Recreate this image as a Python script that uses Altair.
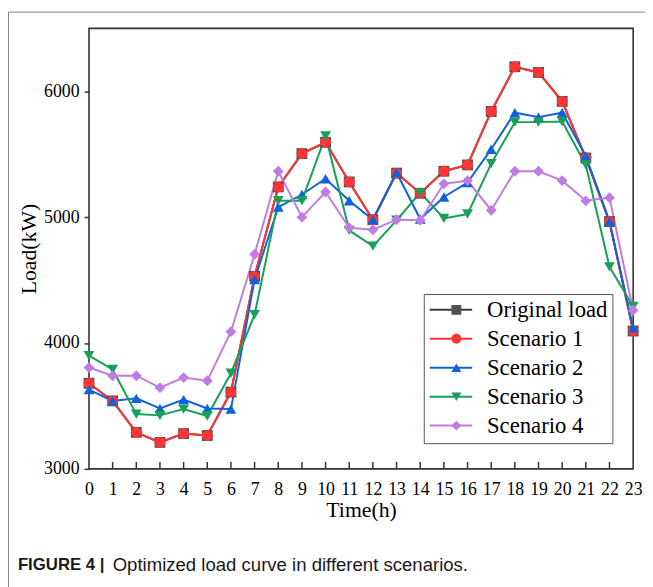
import altair as alt
import pandas as pd

SERIF = "Liberation Serif"
SANS = "Liberation Sans"

hours = list(range(24))
series_names = ["Original load", "Scenario 1", "Scenario 2", "Scenario 3", "Scenario 4"]

original = [3680, 3540, 3290, 3210, 3280, 3265, 3610, 4530, 5240, 5505, 5595, 5280,
            4980, 5350, 5190, 5365, 5415, 5840, 6195, 6150, 5920, 5470, 4965, 4095]
scenario1 = [3680, 3540, 3290, 3210, 3280, 3265, 3610, 4530, 5240, 5505, 5595, 5280,
             4980, 5350, 5190, 5365, 5415, 5840, 6195, 6150, 5920, 5470, 4965, 4095]
scenario2 = [3630, 3540, 3560, 3480, 3550, 3480, 3475, 4505, 5080, 5180, 5305, 5130,
             4980, 5355, 4985, 5160, 5275, 5540, 5830, 5795, 5830, 5485, 4965, 4120]
scenario3 = [3900, 3790, 3435, 3425, 3475, 3420, 3760, 4225, 5130, 5130, 5645, 4895,
             4770, 4975, 5195, 4990, 5025, 5425, 5755, 5755, 5760, 5415, 4605, 4290]
scenario4 = [3805, 3740, 3740, 3645, 3725, 3700, 4090, 4705, 5365, 5000, 5200, 4915,
             4900, 4980, 4975, 5265, 5290, 5055, 5365, 5365, 5290, 5130, 5155, 4260]

line_colors = ["#3a3a3a", "#ff3535", "#0f62dc", "#17a058", "#c07ce2"]
marker_colors = ["#505050", "#ff3535", "#0f62dc", "#17a058", "#c07ce2"]
marker_shapes = ["square", "circle", "triangle-up", "triangle-down", "diamond"]

x_tick_hours = list(range(1, 23))
y_tick_values = [3000, 4000, 5000, 6000]

caption_bold = ["FIGURE 4 |"]
caption_text = ["Optimized load curve in different scenarios."]

rows = []
for name, vals in zip(series_names, [original, scenario1, scenario2, scenario3, scenario4]):
    for h, v in zip(hours, vals):
        rows.append({"hour": h, "load": v, "series": name, "marker": name})
df = pd.DataFrame(rows)

x_scale = alt.Scale(domain=[0, 23], nice=False, zero=False)
y_scale = alt.Scale(domain=[3000, 6500], nice=False, zero=False)

x_axis = alt.Axis(values=hours, ticks=False, tickSize=0, domain=False, grid=False,
                  labelFont=SERIF, labelFontSize=18, labelColor="black", labelPadding=12,
                  labelFlush=False, labelOverlap=False, labelBound=False, format="d",
                  title="Time(h)", titleFont=SERIF, titleFontSize=22,
                  titleFontWeight="normal", titleColor="black", titlePadding=1)
y_axis = alt.Axis(values=y_tick_values, tickSize=5, tickColor="#333333", tickWidth=1.5,
                  domain=False, grid=False, labelFont=SERIF, labelFontSize=18,
                  labelColor="black", labelPadding=5, labelFlush=False, format="d",
                  labelOverlap=False,
                  title="Load(kW)", titleFont=SERIF, titleFontSize=22,
                  titleFontWeight="normal", titleColor="black", titlePadding=3)

leg_lines = alt.Legend(title=None, orient="none", legendX=339, legendY=269, padding=5,
                       strokeColor="#555555", symbolType="stroke", symbolSize=1849,
                       symbolStrokeWidth=2, symbolOffset=0, labelFont=SERIF,
                       labelFontSize=23, labelColor="black", labelOffset=14,
                       clipHeight=22, rowPadding=6.3)
leg_marks = alt.Legend(title=None, orient="none", legendX=339, legendY=269, padding=5,
                       symbolSize=100, symbolStrokeWidth=0, symbolOffset=16.5,
                       labelFont=SERIF, labelFontSize=23, labelExpr="''", labelOffset=14,
                       clipHeight=22, rowPadding=6.3)

base = alt.Chart(df)

lines = base.mark_line(strokeWidth=2).encode(
    x=alt.X("hour:Q", scale=x_scale, axis=x_axis),
    y=alt.Y("load:Q", scale=y_scale, axis=y_axis),
    color=alt.Color("series:N", scale=alt.Scale(domain=series_names, range=line_colors),
                    legend=leg_lines),
)

points = base.mark_point(filled=True, size=120, opacity=1, strokeWidth=0).encode(
    x=alt.X("hour:Q", scale=x_scale, axis=x_axis),
    y=alt.Y("load:Q", scale=y_scale, axis=y_axis),
    fill=alt.Fill("marker:N", scale=alt.Scale(range=marker_colors), legend=leg_marks),
    shape=alt.Shape("marker:N", scale=alt.Scale(range=marker_shapes), legend=leg_marks),
)

ticks = alt.Chart(pd.DataFrame({"hour": x_tick_hours})).mark_rule(
    color="#333333", strokeWidth=1.5
).encode(x=alt.X("hour:Q", scale=x_scale, axis=x_axis), y=alt.value(446), y2=alt.value(439))

border_top = alt.Chart(pd.DataFrame({"k": [0]})).mark_rule(color="#808080", strokeWidth=1).encode(
    x=alt.value(-81.5), x2=alt.value(575), y=alt.value(-16.5))
border_left = alt.Chart(pd.DataFrame({"k": [0]})).mark_rule(color="#808080", strokeWidth=1).encode(
    x=alt.value(-81.5), y=alt.value(-16.5), y2=alt.value(575))

cap1 = alt.Chart(pd.DataFrame({"t": caption_bold})).mark_text(
    font=SANS, fontSize=17, fontWeight="bold", align="left", baseline="middle", color="#1a1a1a"
).encode(text="t:N", x=alt.value(-72), y=alt.value(543))
cap2 = alt.Chart(pd.DataFrame({"t": caption_text})).mark_text(
    font=SANS, fontSize=18.8, align="left", baseline="middle", color="#1a1a1a"
).encode(text="t:N", x=alt.value(24), y=alt.value(543))

chart = alt.layer(border_top, border_left, lines, points, ticks, cap1, cap2).properties(
    width=551, height=446,
    autosize=alt.AutoSizeParams(type="none"),
    padding={"left": 82, "top": 17, "right": 12, "bottom": 116},
).configure_view(stroke="#333333", strokeWidth=1.6).configure_axis(labelOverlap=False)

chart.save("out.html", embed_options={"renderer": "svg", "actions": False})
